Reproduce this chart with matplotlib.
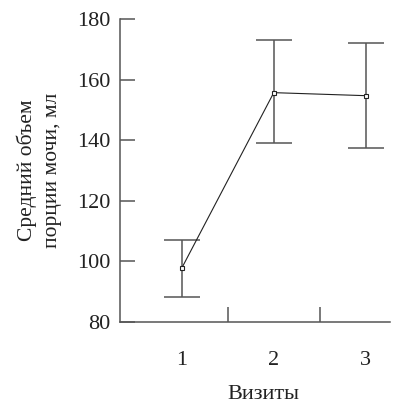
import matplotlib
matplotlib.use("Agg")
import matplotlib.pyplot as plt
from matplotlib.ticker import FixedLocator

# Данные
visits = [1, 2, 3]
visit_labels = ["1", "2", "3"]
mean_volume = [97.7, 155.7, 154.7]
lower_bound = [88.3, 139.1, 137.4]
upper_bound = [107.0, 173.1, 172.1]
y_ticks = [80, 100, 120, 140, 160, 180]

err_low = [m - lo for m, lo in zip(mean_volume, lower_bound)]
err_high = [hi - m for m, hi in zip(mean_volume, upper_bound)]

plt.rcParams["font.family"] = ["Liberation Serif", "DejaVu Serif"]
axis_color = "#555555"
text_color = "#222222"

fig = plt.figure(figsize=(3.97, 4.05), dpi=100, facecolor="white")
ax = fig.add_axes([0.302, 0.205, 0.680, 0.748])

# Усы
ax.errorbar(
    visits,
    mean_volume,
    yerr=[err_low, err_high],
    fmt="none",
    ecolor=axis_color,
    elinewidth=1.1,
    capsize=13,
    capthick=1.1,
    zorder=2,
)
# Линия средних
ax.plot(
    visits,
    mean_volume,
    color="#222222",
    linewidth=0.8,
    marker="s",
    markersize=3,
    markerfacecolor="white",
    markeredgecolor="#222222",
    markeredgewidth=0.8,
    zorder=3,
)

ax.set_xlim(0.33, 3.26)
ax.set_ylim(80, 180)

ax.set_xticks(visits)
ax.set_xticklabels(visit_labels)
ax.xaxis.set_minor_locator(FixedLocator([1.5, 2.5]))
ax.set_yticks(y_ticks)

ax.tick_params(axis="x", which="major", length=0, pad=21, labelsize=16, labelcolor=text_color)
ax.tick_params(axis="x", which="minor", direction="in", length=11, width=1.1, color=axis_color)
ax.tick_params(axis="y", direction="in", length=11, width=1.1, color=axis_color,
               pad=7, labelsize=16, labelcolor=text_color)

for side in ["top", "right"]:
    ax.spines[side].set_visible(False)
for side in ["left", "bottom"]:
    ax.spines[side].set_color(axis_color)
    ax.spines[side].set_linewidth(1.1)

ax.set_xlabel("Визиты", fontsize=16, color=text_color, va="center")
ax.xaxis.set_label_coords(0.533, -0.241)
ax.set_ylabel("Средний объем\nпорции мочи, мл", fontsize=15.5, color=text_color,
              va="center", ha="center", multialignment="center", linespacing=1.45)
ax.yaxis.set_label_coords(-0.30, 0.5)

fig.savefig("out.png", dpi=100, facecolor="white")
plt.close(fig)
